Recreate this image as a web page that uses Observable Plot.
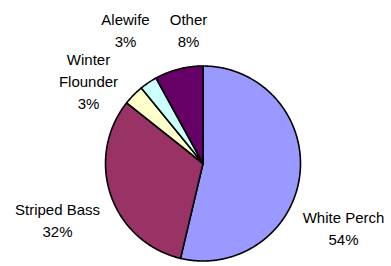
<!DOCTYPE html>
<html>
<head>
<meta charset="utf-8">
<script src="https://cdn.jsdelivr.net/npm/d3@7"></script>
<script src="https://cdn.jsdelivr.net/npm/@observablehq/plot@0.6"></script>
<style>
  html, body { margin: 0; padding: 0; background: #fff; }
  #chart svg { display: block; }
</style>
</head>
<body>
<div id="chart"></div>
<script>
// ---- data ----
const species = ["White Perch", "Striped Bass", "Winter Flounder", "Alewife", "Other"];
const shares = [53.7, 32.0, 3.4, 2.9, 8.0];
const sliceColors = ["#9999FF", "#993366", "#FFFFCC", "#CCFFFF", "#660066"];
const labelText = ["White Perch", "Striped Bass", "Winter\nFlounder", "Alewife", "Other"];

// ---- layout (pixels) ----
const W = 391, H = 266;
const cx = 202.5, cy = 163, R = 97.5;
const labelPos = {
  "White Perch": [343, 226],
  "Striped Bass": [57, 218],
  "Winter Flounder": [88, 79],
  "Alewife": [125, 28],
  "Other": [188, 28]
};

// ---- geometry from data via d3.pie ----
const pie = d3.pie().sort(null).value(d => d.v)
  .startAngle(0).endAngle(2 * Math.PI);
const arcs = pie(species.map((s, i) => ({name: s, v: shares[i]})));
const pts = [];
for (const a of arcs) {
  const name = a.data.name;
  pts.push({name, x: cx, y: cy});
  const n = Math.max(2, Math.ceil((a.endAngle - a.startAngle) / 0.01));
  for (let k = 0; k <= n; k++) {
    const t = a.startAngle + (a.endAngle - a.startAngle) * k / n;
    pts.push({name, x: cx + R * Math.sin(t), y: cy - R * Math.cos(t)});
  }
  pts.push({name, x: cx, y: cy});
}

const total = d3.sum(shares);
const labels = species.map((s, i) => ({
  name: s,
  text: labelText[i] + "\n" + Math.round(shares[i] / total * 100) + "%",
  x: labelPos[s][0],
  y: labelPos[s][1]
}));

const chart = Plot.plot({
  width: W,
  height: H,
  margin: 0,
  x: {type: "identity", axis: null},
  y: {type: "identity", axis: null},
  color: {domain: species, range: sliceColors},
  style: {fontFamily: "'Liberation Sans', Arial, sans-serif", background: "#fff"},
  marks: [
    Plot.line(pts, {x: "x", y: "y", z: "name", fill: "name", stroke: "black",
      strokeWidth: 1.6, strokeLinejoin: "round", curve: "linear"}),
    Plot.text(labels, {x: "x", y: "y", text: "text", fontSize: 15,
      lineHeight: 1.47, fill: "#000", textAnchor: "middle"})
  ]
});
document.getElementById("chart").appendChild(chart);
</script>
</body>
</html>
